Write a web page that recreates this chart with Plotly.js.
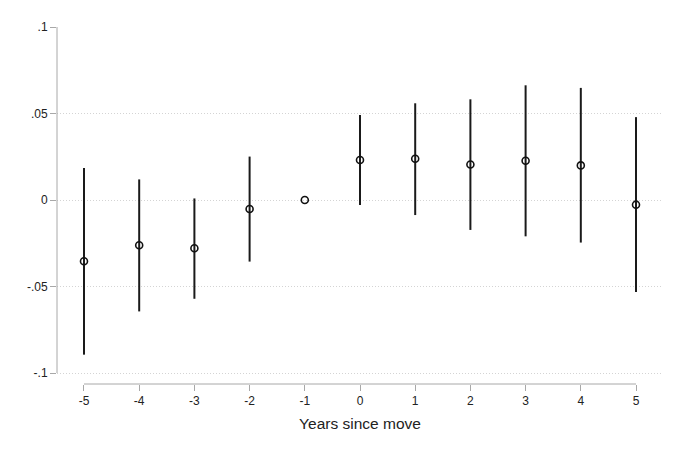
<!DOCTYPE html>
<html>
<head>
<meta charset="utf-8">
<script src="https://cdn.plot.ly/plotly-3.0.1.min.js"></script>
<style>html,body{margin:0;padding:0;background:#fff;}#chart{width:680px;height:453px;}</style>
</head>
<body>
<div id="chart"></div>
<script>
// Event-study data
const years = [-5, -4, -3, -2, -1, 0, 1, 2, 3, 4, 5];
const xTickText = ['-5', '-4', '-3', '-2', '-1', '0', '1', '2', '3', '4', '5'];
const estimate = [-0.0354, -0.0262, -0.0279, -0.0052, 0.0, 0.0231, 0.0238, 0.0205, 0.0227, 0.0200, -0.0027];
const ciUpper = [0.0185, 0.0119, 0.0009, 0.0251, 0.0, 0.0491, 0.0559, 0.0582, 0.0663, 0.0648, 0.0479];
const ciLower = [-0.0894, -0.0644, -0.0571, -0.0356, 0.0, -0.0029, -0.0087, -0.0173, -0.0210, -0.0246, -0.0532];
const yTickVals = [-0.1, -0.05, 0, 0.05, 0.1];
const yTickText = ['-.1', '-.05', '0', '.05', '.1'];
const gridVals = [-0.1, -0.05, 0, 0.05];
const xTitle = 'Years since move';

const errPlus = estimate.map((e, i) => ciUpper[i] - e);
const errMinus = estimate.map((e, i) => e - ciLower[i]);

const font = 'Liberation Sans, Arial, Helvetica, sans-serif';
const axisGray = '#a8a8a8';

const trace = {
  x: years,
  y: estimate,
  type: 'scatter',
  mode: 'markers',
  marker: {symbol: 'circle-open', size: 7, color: '#111', line: {width: 1.6, color: '#111'}},
  error_y: {type: 'data', symmetric: false, array: errPlus, arrayminus: errMinus,
            width: 0, thickness: 2, color: '#1a1a1a'},
  hoverinfo: 'x+y'
};

const yRange = [-0.10636, 0.1];
const layout = {
  width: 680, height: 453,
  margin: {l: 57, r: 17, t: 27, b: 69},
  paper_bgcolor: '#fff', plot_bgcolor: '#fff',
  showlegend: false,
  font: {family: font, color: '#222', size: 12},
  xaxis: {
    range: [-5.489, 5.489],
    tickvals: years, ticktext: xTickText,
    ticks: 'outside', ticklen: 6, tickwidth: 1, tickcolor: axisGray,
    showline: false, showgrid: false, zeroline: false,
    tickfont: {family: font, size: 12, color: '#222'},
    title: {text: xTitle, font: {family: font, size: 15.5, color: '#222'}, standoff: 10}
  },
  yaxis: {
    range: yRange,
    tickvals: yTickVals, ticktext: yTickText,
    ticks: 'outside', ticklen: 6, tickwidth: 1, tickcolor: axisGray,
    showline: false, showgrid: false, zeroline: false,
    tickfont: {family: font, size: 12, color: '#222'}
  },
  yaxis2: {
    overlaying: 'y', range: yRange,
    tickvals: gridVals, showticklabels: false, ticks: '',
    showgrid: true, gridcolor: '#d4d4d4', griddash: '1px,2px', gridwidth: 1,
    showline: false, zeroline: false
  },
  shapes: [
    {type: 'line', xref: 'paper', yref: 'y', x0: 0, x1: 0, y0: -0.1, y1: 0.1,
     line: {color: axisGray, width: 1}},
    {type: 'line', xref: 'x', yref: 'paper', x0: -5, x1: 5, y0: 0, y1: 0,
     line: {color: axisGray, width: 1}}
  ]
};

const gridTrace = {x: [], y: [], yaxis: 'y2', type: 'scatter', hoverinfo: 'skip'};

Plotly.newPlot('chart', [gridTrace, trace], layout, {displayModeBar: false, staticPlot: true});
</script>
</body>
</html>
